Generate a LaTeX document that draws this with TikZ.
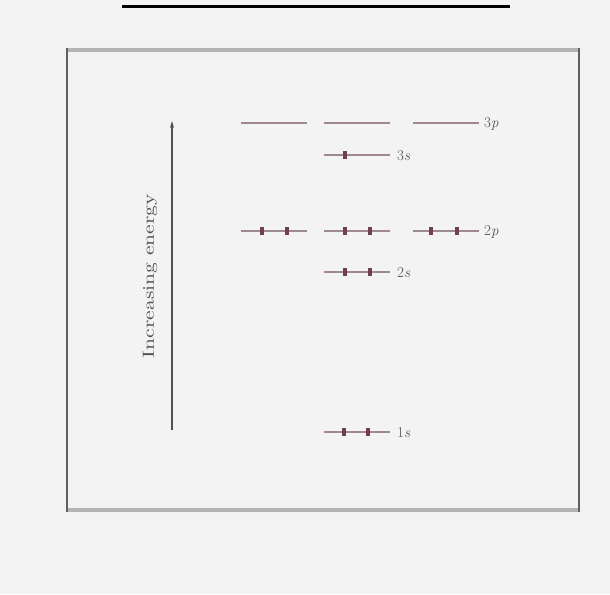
\documentclass[tikz,border=0pt]{standalone}
\usetikzlibrary{arrows.meta}
\definecolor{bg}{HTML}{F3F3F3}
\definecolor{lvl}{HTML}{A08890}
\definecolor{elec}{HTML}{704050}
\definecolor{frameg}{HTML}{B4B4B4}
\definecolor{framed}{HTML}{606060}
\definecolor{txtg}{HTML}{505050}
\tikzset{
  level/.style={draw=lvl, line width=2.8pt},
  electron/.style={draw=elec, line width=4pt},
  orblabel/.style={font=\fontsize{15}{16}\selectfont, text=txtg, anchor=west, inner sep=0pt},
}
\newcommand{\orb}[2]{% center x, y
  \draw[level] (#1-33,#2) -- (#1+33,#2);}
\begin{document}
\begin{tikzpicture}[x=1pt,y=-1pt]
\useasboundingbox (0,0) rectangle (610,594);
\fill[bg] (0,0) rectangle (610,594);
% top rule
\draw[black, line width=3pt] (122,7) -- (510,7);
% frame
\draw[frameg, line width=4pt] (67,50) -- (579,50);
\draw[frameg, line width=4pt] (67,510) -- (579,510);
\draw[framed, line width=1.8pt] (67,48) -- (67,512);
\draw[framed, line width=1.8pt] (579,48) -- (579,512);
% energy arrow
\coordinate (abot) at (172,430);
\coordinate (atop) at (172,121);
\draw[txtg, line width=1.1pt, -{Stealth[length=7pt,width=4pt]}] (abot) -- (atop);
\node[rotate=90, text=txtg, inner sep=0pt] (elabel) at (150,276)
  {\resizebox{164pt}{11pt}{Increasing energy}};
% 3p
\orb{274}{123}\orb{357}{123}\orb{446}{123}
\node[orblabel] (l3p) at (484,124) {3\textit{p}};
% 3s
\orb{357}{155}
\draw[electron] (345,151) -- (345,159);
\node[orblabel] (l3s) at (397,156) {3\textit{s}};
% 2p
\orb{274}{231}\orb{357}{231}\orb{446}{231}
\foreach \x in {262,287,345,370,431,457}
  \draw[electron] (\x,227) -- (\x,235);
\node[orblabel] (l2p) at (484,232) {2\textit{p}};
% 2s
\orb{357}{272}
\foreach \x in {345,370}
  \draw[electron] (\x,268) -- (\x,276);
\node[orblabel] (l2s) at (397,273) {2\textit{s}};
% 1s
\orb{357}{432}
\foreach \x in {344,368}
  \draw[electron] (\x,428) -- (\x,436);
\node[orblabel] (l1s) at (397,433) {1\textit{s}};
\end{tikzpicture}
\end{document}
